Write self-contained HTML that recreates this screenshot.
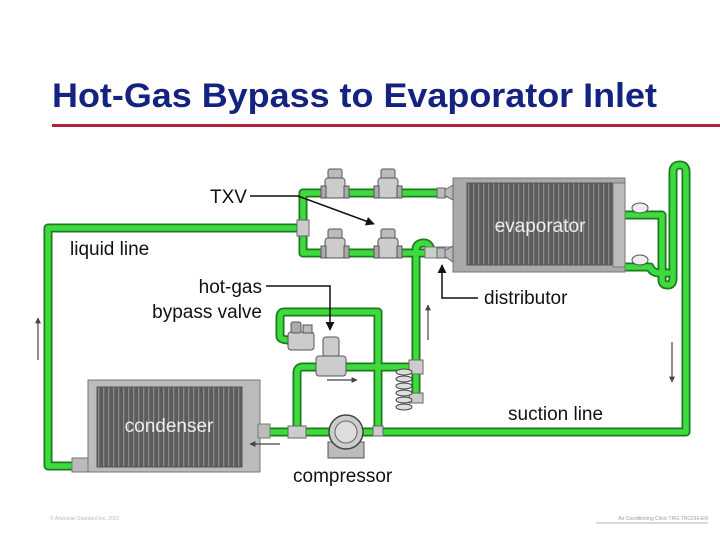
<!DOCTYPE html>
<html><head><meta charset="utf-8"><style>
html,body{margin:0;padding:0;background:#fff;}
svg{display:block;}
text{font-family:"Liberation Sans",sans-serif;}
</style></head><body>
<svg width="720" height="539" viewBox="0 0 720 539" xmlns="http://www.w3.org/2000/svg">
<defs>
<marker id="ah" viewBox="0 0 10 10" refX="9" refY="5" markerWidth="6" markerHeight="6" orient="auto"><path d="M0,0L10,5L0,10z" fill="#111"/></marker>
<marker id="ag" viewBox="0 0 10 10" refX="9" refY="5" markerWidth="5" markerHeight="5" orient="auto"><path d="M0,0L10,5L0,10z" fill="#444"/></marker>
<pattern id="fins" width="5" height="10" patternUnits="userSpaceOnUse"><rect width="5" height="10" fill="#5c5c5c"/><rect x="3" width="1.3" height="10" fill="#8a8a8a"/></pattern>
<g id="valve"><rect x="-7" y="-22" width="14" height="10" rx="2" fill="#bbb" stroke="#555"/><rect x="-10" y="-13" width="20" height="20" rx="3" fill="#ccc" stroke="#555"/><rect x="-14" y="-5" width="5" height="12" fill="#aaa" stroke="#555"/><rect x="9" y="-5" width="5" height="12" fill="#aaa" stroke="#555"/></g>
</defs>
<text x="52" y="107" font-size="34" font-weight="bold" fill="#14237f" textLength="605" lengthAdjust="spacingAndGlyphs">Hot-Gas Bypass to Evaporator Inlet</text>
<rect x="52" y="124" width="668" height="3" fill="#b2203b"/>

<!-- pipes -->
<g fill="none" stroke-linejoin="round" stroke-linecap="round">
<g stroke="#1e7a1e" stroke-width="9">
<path d="M80,466 H48 V228 H303"/>
<path d="M303,193 V253"/>
<path d="M303,193 H455"/>
<path d="M303,253 H455"/>
<path d="M416,398 V250 Q416,243 424,243 Q430,243 432,253"/>
<path d="M623,215 H662 V280 Q662,285 668,285 Q673,285 673,278 V172 Q673,165 680,165 Q686,165 686,172 V432 H380"/>
<path d="M623,267 H650 Q652,273 660,273 H668"/>
<path d="M260,432 H380"/>
<path d="M297,432 V373 Q297,367 303,367 H416"/>
<path d="M378,432 V312 H284 Q280,312 280,318 V336 Q280,340 290,340"/>
</g>
<g stroke="#3ddb3d" stroke-width="5.5">
<path d="M80,466 H48 V228 H303"/>
<path d="M303,193 V253"/>
<path d="M303,193 H455"/>
<path d="M303,253 H455"/>
<path d="M416,398 V250 Q416,243 424,243 Q430,243 432,253"/>
<path d="M623,215 H662 V280 Q662,285 668,285 Q673,285 673,278 V172 Q673,165 680,165 Q686,165 686,172 V432 H380"/>
<path d="M623,267 H650 Q652,273 660,273 H668"/>
<path d="M260,432 H380"/>
<path d="M297,432 V373 Q297,367 303,367 H416"/>
<path d="M378,432 V312 H284 Q280,312 280,318 V336 Q280,340 290,340"/>
</g>
</g>
<!-- tees -->
<rect x="297" y="220" width="12" height="16" fill="#ccc" stroke="#666"/>
<rect x="409" y="360" width="14" height="14" fill="#ccc" stroke="#666"/>
<rect x="409" y="393" width="14" height="10" fill="#ccc" stroke="#666"/>
<rect x="288" y="426" width="18" height="12" fill="#ccc" stroke="#666"/>
<rect x="373" y="426" width="10" height="10" fill="#ccc" stroke="#666"/>
<rect x="425" y="247" width="25" height="11" fill="#ccc" stroke="#777"/>
<!-- coil -->
<g fill="#ddd" stroke="#444"><ellipse cx="404" cy="372" rx="8" ry="3"/><ellipse cx="404" cy="379" rx="8" ry="3"/><ellipse cx="404" cy="386" rx="8" ry="3"/><ellipse cx="404" cy="393" rx="8" ry="3"/><ellipse cx="404" cy="400" rx="8" ry="3"/><ellipse cx="404" cy="407" rx="8" ry="3"/></g>

<!-- valves -->
<use href="#valve" x="335" y="191"/>
<use href="#valve" x="388" y="191"/>
<use href="#valve" x="335" y="251"/>
<use href="#valve" x="388" y="251"/>
<!-- bypass valve -->
<rect x="288" y="332" width="26" height="18" rx="3" fill="#ccc" stroke="#555"/>
<rect x="291" y="322" width="10" height="11" rx="2" fill="#aaa" stroke="#555"/>
<rect x="303" y="325" width="9" height="8" fill="#bbb" stroke="#555"/>
<rect x="323" y="337" width="16" height="20" rx="3" fill="#ccc" stroke="#555"/>
<rect x="316" y="356" width="30" height="20" rx="3" fill="#ccc" stroke="#555"/>

<!-- evaporator -->
<rect x="453" y="178" width="172" height="94" fill="#aaa" stroke="#777"/>
<rect x="467" y="183" width="146" height="82" fill="url(#fins)" stroke="#555"/>
<rect x="613" y="183" width="12" height="84" fill="#bbb" stroke="#777"/>
<path d="M453,185 L440,193 L453,200Z M453,246 L440,253 L453,262Z" fill="#bbb" stroke="#666"/>
<rect x="437" y="188" width="8" height="10" fill="#bbb" stroke="#666"/>
<rect x="437" y="248" width="8" height="10" fill="#bbb" stroke="#666"/>
<text x="540" y="232" font-size="19" fill="#eee" text-anchor="middle">evaporator</text>
<ellipse cx="640" cy="208" rx="8" ry="5" fill="#eee" stroke="#555"/>
<ellipse cx="640" cy="260" rx="8" ry="5" fill="#eee" stroke="#555"/>

<!-- condenser -->
<rect x="88" y="380" width="172" height="92" fill="#bbb" stroke="#777"/>
<rect x="97" y="387" width="145" height="80" fill="url(#fins)" stroke="#555"/>
<rect x="72" y="458" width="16" height="14" fill="#bbb" stroke="#777"/>
<rect x="258" y="424" width="12" height="14" fill="#bbb" stroke="#777"/>
<text x="169" y="432" font-size="19" fill="#eee" text-anchor="middle">condenser</text>

<!-- compressor -->
<path d="M328,442 H364 V458 H328Z" fill="#bbb" stroke="#555"/>
<circle cx="346" cy="432" r="17" fill="#ccc" stroke="#444" stroke-width="1.5"/>
<circle cx="346" cy="432" r="11" fill="#ddd" stroke="#666"/>

<!-- flow arrows -->
<g stroke="#444" stroke-width="1.2" marker-end="url(#ag)">
<line x1="38" y1="360" x2="38" y2="318"/>
<line x1="428" y1="340" x2="428" y2="305"/>
<line x1="672" y1="342" x2="672" y2="382"/>
<line x1="327" y1="380" x2="357" y2="380"/>
<line x1="280" y1="444" x2="250" y2="444"/>
</g>

<!-- labels -->
<g font-size="19" fill="#111">
<text x="210" y="203">TXV</text>
<text x="70" y="255">liquid line</text>
<text x="262" y="293" text-anchor="end">hot-gas</text>
<text x="262" y="318" text-anchor="end">bypass valve</text>
<text x="484" y="304">distributor</text>
<text x="508" y="420">suction line</text>
<text x="293" y="482">compressor</text>
</g>
<g stroke="#111" stroke-width="1.5" fill="none">
<path d="M250,196 H298 L374,224" marker-end="url(#ah)"/>
<path d="M266,286 H330 V330" marker-end="url(#ah)"/>
<path d="M478,298 H442 V265" marker-end="url(#ah)"/>
</g>
<text x="50" y="520" font-size="5" fill="#bbb">© American Standard Inc. 2001</text>
<text x="708" y="520" font-size="5" fill="#99a" text-anchor="end">Air Conditioning Clinic TRG-TRC016-EN</text>
<line x1="596" y1="523" x2="708" y2="523" stroke="#99a" stroke-width="0.7"/>
</svg>
</body></html>
